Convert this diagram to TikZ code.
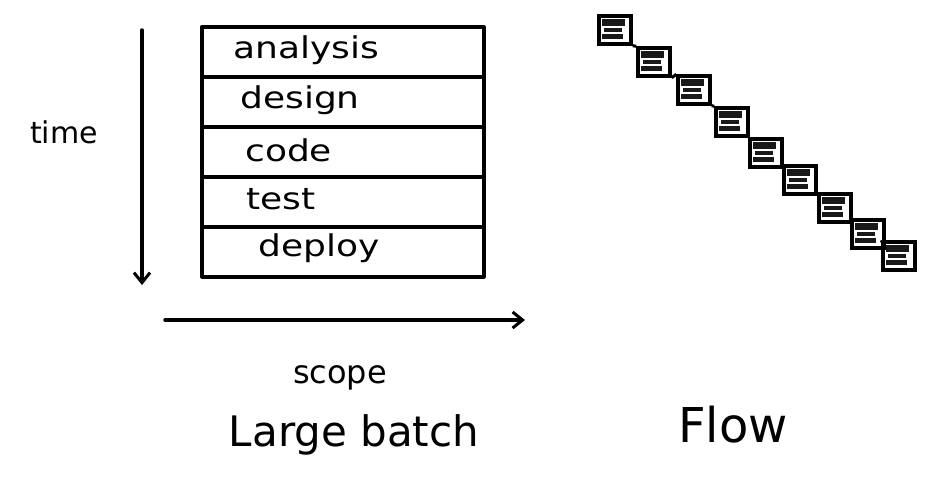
\documentclass[tikz,border=0pt]{standalone}
\usepackage{fontspec}
\setmainfont{DejaVu Sans}
\usetikzlibrary{arrows.meta}
\begin{document}
\begin{tikzpicture}[x=1pt,y=-1pt,
  ink/.style={line width=3.5pt,line cap=round,line join=round},
  rowbox/.style={draw,ink,minimum width=282pt,minimum height=50pt,inner sep=0pt,anchor=north west},
  rowlabel/.style={anchor=west,font=\fontsize{30}{32}\selectfont,inner sep=0pt,xscale=1.2},
  stepsq/.style={draw,line width=3.4pt,minimum width=32pt,minimum height=28pt,inner sep=0pt,
    path picture={\fill[black!90] ([xshift=3pt,yshift=-3pt]path picture bounding box.north west) rectangle ([xshift=-6pt,yshift=-10pt]path picture bounding box.north east);
      \fill[black!90] ([xshift=5pt,yshift=-12pt]path picture bounding box.north west) rectangle ([xshift=-9pt,yshift=-16pt]path picture bounding box.north east);
      \fill[black!90] ([xshift=3pt,yshift=-18pt]path picture bounding box.north west) rectangle ([xshift=-8pt,yshift=-23pt]path picture bounding box.north east);}},
  bigtext/.style={font=\fontsize{42}{44}\selectfont,inner sep=0pt}
]
\useasboundingbox (0,0) rectangle (925,483);
% stack of phases
\node[rowbox] (r1) at (200,25) {};
\node[rowbox] (r2) at (200,75) {};
\node[rowbox] (r3) at (200,125) {};
\node[rowbox] (r4) at (200,175) {};
\node[rowbox] (r5) at (200,225) {};
\node[rowlabel] (l1) at (233,50) {analysis};
\node[rowlabel] (l2) at (240,100) {design};
\node[rowlabel] (l3) at (245,150) {code};
\node[rowlabel] (l4) at (246,199) {test};
\node[rowlabel] (l5) at (258,248) {deploy};
% axes
\coordinate (t0) at (142,30);
\coordinate (t1) at (142,285);
\draw[ink,-{Straight Barb[length=10pt,width=16pt,line width=3pt]}] (t0) -- (t1);
\node[font=\fontsize{30}{32}\selectfont,inner sep=0pt] (time) at (64,132) {time};
\coordinate (s0) at (165,320);
\coordinate (s1) at (525,320);
\draw[ink,-{Straight Barb[length=10pt,width=16pt,line width=3pt]}] (s0) -- (s1);
\node[font=\fontsize{32}{34}\selectfont,inner sep=0pt] (scope) at (340,378) {scope};
\node[bigtext] (lb) at (354,435) {Large batch};
\node[bigtext,font=\fontsize{48}{50}\selectfont] (flow) at (733,425) {Flow};
% staircase
\node[stepsq] (q1) at (615,30) {};
\node[stepsq] (q2) at (654,62) {};
\node[stepsq] (q3) at (694,90) {};
\node[stepsq] (q4) at (732,122) {};
\node[stepsq] (q5) at (766,153) {};
\node[stepsq] (q6) at (800,180) {};
\node[stepsq] (q7) at (835,208) {};
\node[stepsq] (q8) at (868,234) {};
\node[stepsq] (q9) at (899,256) {};
\foreach \a/\b in {q1/q2,q2/q3,q3/q4,q4/q5,q5/q6,q6/q7,q7/q8,q8/q9}
  \draw[line width=3pt] (\a.south east) -- (\b.north west);
\end{tikzpicture}
\end{document}
